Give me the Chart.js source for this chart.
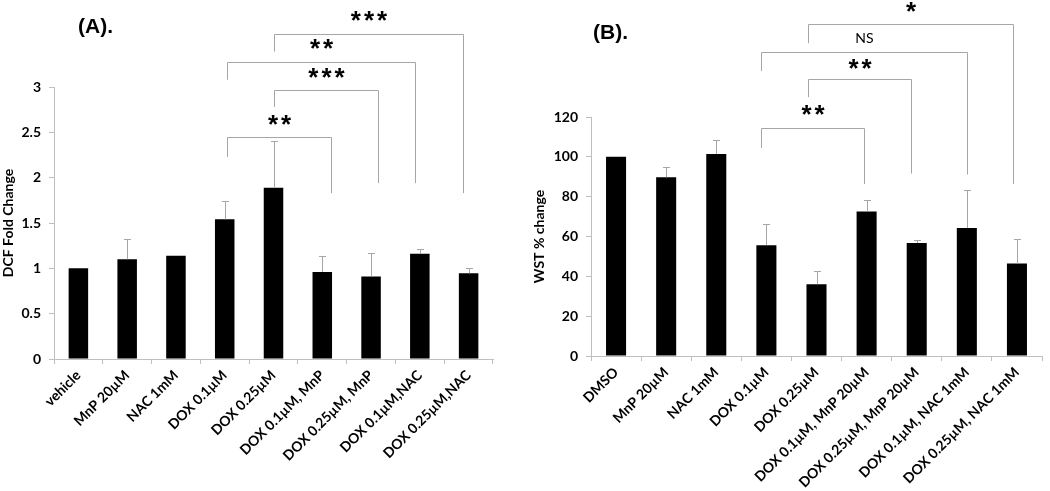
<!DOCTYPE html>
<html>
<head>
<meta charset="utf-8">
<script src="https://cdn.jsdelivr.net/npm/chart.js@4.4.1/dist/chart.umd.min.js"></script>
<style>
  html, body { margin: 0; padding: 0; background: #fff; }
  #wrap { position: relative; width: 1050px; height: 491px; overflow: hidden; }
  canvas { position: absolute; top: 0; }
  #chartA { left: 0; }
  #chartB { left: 520px; }
</style>
</head>
<body>
<div id="wrap">
  <canvas id="chartA" width="520" height="491"></canvas>
  <canvas id="chartB" width="530" height="491"></canvas>
</div>
<script>
// ---- panel A: DCF fold change ----
const labelsA = ['vehicle', 'MnP 20µM', 'NAC 1mM', 'DOX 0.1µM', 'DOX 0.25µM',
  'DOX 0.1µM, MnP', 'DOX 0.25µM, MnP', 'DOX 0.1µM,NAC', 'DOX 0.25µM,NAC'];
const meansA = [1.00, 1.10, 1.14, 1.54, 1.89, 0.96, 0.91, 1.16, 0.945];
const errA = [0, 0.22, 0, 0.20, 0.51, 0.18, 0.26, 0.05, 0.055];
const yMaxA = 3;
const yStepA = 0.5;
// significance brackets: [from, to, top, leftEnd, rightEnd, text, textY] (data units)
const sigA = [
  [3.045, 5.176, 2.45, 2.23, 1.83, '**', 2.66],
  [4.008, 6.133, 2.97, 2.78, 1.94, '***', 3.18],
  [3.045, 6.904, 3.28, 3.08, 1.94, '**', 3.49],
  [4.008, 7.875, 3.59, 3.39, 1.83, '***', 3.80]
];

// ---- panel B: WST % change ----
const labelsB = ['DMSO', 'MnP 20µM', 'NAC 1mM', 'DOX 0.1µM', 'DOX 0.25µM',
  'DOX 0.1µM, MnP 20µM', 'DOX 0.25µM, MnP 20µM', 'DOX 0.1µM, NAC 1mM', 'DOX 0.25µM, NAC 1mM'];
const meansB = [100, 89.7, 101.4, 55.6, 36.0, 72.5, 56.7, 64.3, 46.4];
const errB = [0, 5.4, 6.9, 10.9, 6.5, 6.0, 1.7, 19.2, 12.2];
const yMaxB = 120;
const yStepB = 20;
const sigB = [
  [2.90, 4.957, 114.7, 104.4, 86.3, '**', 124.2],
  [3.833, 5.89, 138.9, 130.0, 91.6, '**', 147.6],
  [2.90, 6.994, 152.6, 143.1, 91.1, 'NS', 159.6],
  [3.833, 7.92, 166.9, 157.1, 86.3, '*', 176]
];

const AXIS_GREY = '#bfbfbf';
const LINE_GREY = '#a6a6a6';

/**
 * Draws upward error bars on top of each bar
 */
const errorBarPlugin = {
  id: 'errorBars',
  afterDatasetsDraw(chart, args, opts) {
    const { ctx, scales: { y } } = chart;
    const meta = chart.getDatasetMeta(0);
    const values = chart.data.datasets[0].data;
    ctx.save();
    ctx.strokeStyle = LINE_GREY;
    ctx.lineWidth = 1;
    meta.data.forEach((bar, i) => {
      const err = opts.errors[i];
      if (!err) return;
      const x = Math.round(bar.x) + 0.5;
      const yTop = Math.round(y.getPixelForValue(values[i] + err)) + 0.5;
      ctx.beginPath();
      ctx.moveTo(x, bar.y);
      ctx.lineTo(x, yTop);
      ctx.moveTo(x - 3.5, yTop);
      ctx.lineTo(x + 3.5, yTop);
      ctx.stroke();
    });
    ctx.restore();
  }
};

/**
 * Draws the significance brackets, their stars and the panel letter
 */
const sigPlugin = {
  id: 'sig',
  afterDraw(chart, args, opts) {
    const { ctx, scales: { x, y } } = chart;
    ctx.save();
    ctx.strokeStyle = LINE_GREY;
    ctx.lineWidth = 1;
    opts.marks.forEach(([from, to, top, leftEnd, rightEnd, text, textY]) => {
      const x1 = Math.round(x.getPixelForValue(from)) + 0.5;
      const x2 = Math.round(x.getPixelForValue(to)) + 0.5;
      const yt = Math.round(y.getPixelForValue(top)) + 0.5;
      ctx.beginPath();
      ctx.moveTo(x1, y.getPixelForValue(leftEnd));
      ctx.lineTo(x1, yt);
      ctx.lineTo(x2, yt);
      ctx.lineTo(x2, y.getPixelForValue(rightEnd));
      ctx.stroke();

      const cx = (x1 + x2) / 2;
      const cy = y.getPixelForValue(textY);
      ctx.fillStyle = '#000';
      ctx.textAlign = 'center';
      if (text === 'NS') {
        ctx.font = '14px Lato';
        ctx.textBaseline = 'middle';
        ctx.letterSpacing = '0px';
        ctx.fillText(text, cx, cy);
      } else {
        const size = 26;
        ctx.font = 'bold ' + size + 'px "Liberation Sans"';
        ctx.textBaseline = 'alphabetic';
        ctx.letterSpacing = '3px';
        ctx.fillText(text, cx + 1.5, cy + size * 0.57);
      }
    });

    // panel letter
    ctx.letterSpacing = '0px';
    ctx.fillStyle = '#000';
    ctx.font = 'bold 21px "Liberation Sans"';
    ctx.textAlign = 'left';
    ctx.textBaseline = 'middle';
    ctx.fillText(opts.letter, opts.letterX, opts.letterY);
    ctx.restore();
  }
};

function makeChart(canvasId, cfg) {
  return new Chart(document.getElementById(canvasId), {
    type: 'bar',
    data: {
      labels: cfg.labels,
      datasets: [{
        data: cfg.values,
        backgroundColor: '#000',
        borderWidth: 0,
        barPercentage: 0.4,
        categoryPercentage: 1
      }]
    },
    options: {
      responsive: false,
      animation: false,
      events: [],
      layout: { padding: cfg.padding },
      plugins: {
        legend: { display: false },
        tooltip: { enabled: false },
        errorBars: { errors: cfg.errors },
        sig: { marks: cfg.sig, letter: cfg.letter, letterX: cfg.letterX, letterY: cfg.letterY }
      },
      scales: {
        x: {
          afterFit: (s) => { s.height = cfg.xHeight; },
          border: { color: AXIS_GREY },
          grid: { drawOnChartArea: false, color: AXIS_GREY, tickLength: 5 },
          ticks: {
            autoSkip: false,
            maxRotation: 45,
            minRotation: 45,
            padding: 3,
            color: '#000',
            font: { family: 'Lato', weight: 'bold', size: 14 }
          }
        },
        y: {
          min: 0,
          max: cfg.yMax,
          afterFit: (s) => { s.width = cfg.yWidth; },
          border: { color: AXIS_GREY },
          grid: { drawOnChartArea: false, color: AXIS_GREY, tickLength: 5 },
          ticks: {
            stepSize: cfg.yStep,
            padding: 8,
            color: '#000',
            font: { family: 'Lato', weight: 'bold', size: 14 },
            callback: (v) => String(v)
          },
          title: {
            display: true,
            text: cfg.yTitle,
            color: '#000',
            padding: { top: cfg.titlePad, bottom: 0 },
            font: { family: 'Lato', weight: 'bold', size: 14 }
          }
        }
      }
    },
    plugins: [errorBarPlugin, sigPlugin]
  });
}

makeChart('chartA', {
  labels: labelsA, values: meansA, errors: errA, sig: sigA,
  yMax: yMaxA, yStep: yStepA, yTitle: 'DCF Fold Change',
  padding: { top: 87, right: 27, left: 0, bottom: 0 },
  yWidth: 54, xHeight: 132, titlePad: 0,
  letter: '(A).', letterX: 78, letterY: 27
});

makeChart('chartB', {
  labels: labelsB, values: meansB, errors: errB, sig: sigB,
  yMax: yMaxB, yStep: yStepB, yTitle: 'WST % change',
  padding: { top: 117, right: 8, left: 0, bottom: 0 },
  yWidth: 71, xHeight: 135, titlePad: 11,
  letter: '(B).', letterX: 73, letterY: 33
});
</script>
</body>
</html>
